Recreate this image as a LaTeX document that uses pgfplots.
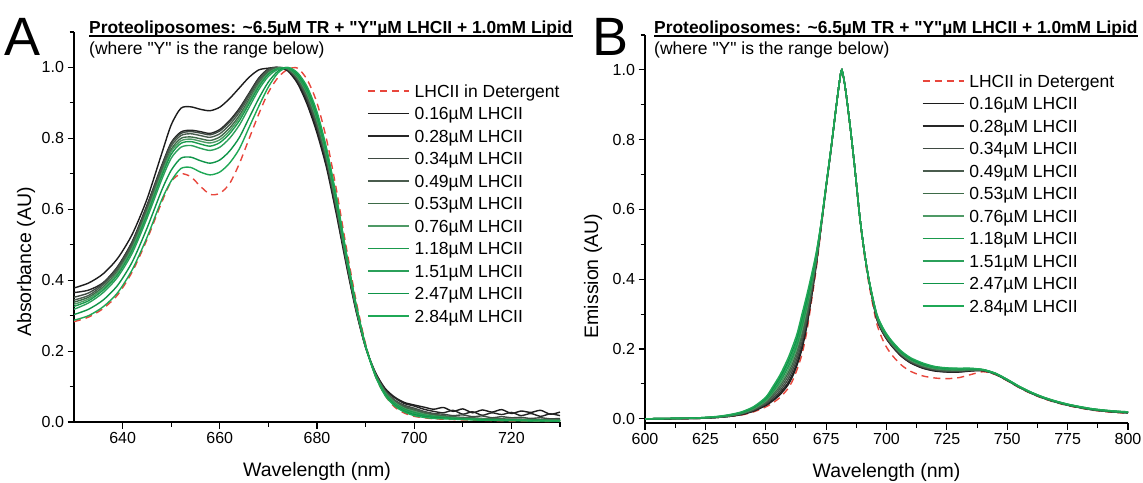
\documentclass[border=0pt]{standalone}
\usepackage{pgfplots}
\pgfplotsset{compat=1.18}
\usepackage{pgfplotstable}
\usepackage{fontspec}
\setmainfont{Liberation Sans}

\definecolor{detred}{HTML}{E8463C}
\definecolor{c1}{HTML}{1C1C1C}
\definecolor{c2}{HTML}{262626}
\definecolor{c3}{HTML}{3F4A42}
\definecolor{c4}{HTML}{4A5C4E}
\definecolor{c5}{HTML}{3D6B48}
\definecolor{c6}{HTML}{4F9A66}
\definecolor{c7}{HTML}{1A9A4C}
\definecolor{c8}{HTML}{2BA05A}
\definecolor{c9}{HTML}{0E9448}
\definecolor{c10}{HTML}{1FA856}

\pgfplotstableread{
wl s1 s2 s3 s4 s5 s6 s7 s8 s9 s10 det
630 .378 .365 .352 .344 .338 .332 .326 .318 .303 .287 .283
633 .392 .372 .364 .357 .352 .347 .342 .336 .318 .300 .296
636 .418 .393 .391 .387 .381 .377 .372 .365 .344 .325 .320
639 .462 .439 .437 .432 .426 .422 .416 .409 .386 .365 .359
642 .530 .510 .507 .502 .496 .491 .485 .477 .452 .430 .424
645 .628 .611 .608 .602 .595 .590 .583 .574 .546 .520 .514
648 .755 .722 .719 .713 .705 .699 .692 .682 .652 .625 .618
650 .838 .788 .785 .778 .769 .763 .755 .744 .710 .680 .678
652 .885 .818 .814 .808 .800 .793 .786 .775 .744 .715 .700
654 .889 .823 .819 .813 .804 .798 .791 .780 .747 .718 .692
656 .882 .819 .815 .808 .799 .792 .784 .772 .737 .705 .665
658 .878 .814 .810 .803 .794 .787 .778 .766 .730 .697 .642
660 .888 .825 .821 .813 .804 .796 .788 .775 .739 .705 .645
662 .912 .850 .846 .838 .829 .821 .813 .800 .764 .730 .672
664 .942 .884 .880 .873 .864 .857 .849 .837 .802 .770 .728
666 .972 .927 .924 .918 .910 .904 .897 .887 .857 .830 .798
668 .993 .970 .967 .962 .956 .951 .945 .937 .912 .890 .868
670 .998 .996 .995 .991 .987 .984 .981 .975 .959 .945 .930
672 1.000 1.000 1.000 1.000 .999 .998 .997 .995 .990 .985 .972
674 .990 .993 .994 .995 .996 .997 .998 .999 1.000 1.000 .995
676 .955 .960 .964 .967 .970 .973 .976 .979 .982 .985 .998
678 .895 .903 .910 .915 .920 .925 .930 .935 .940 .945 .965
680 .815 .824 .833 .839 .845 .851 .857 .863 .869 .875 .900
682 .715 .723 .732 .737 .743 .748 .754 .759 .765 .770 .795
684 .585 .593 .600 .605 .610 .615 .620 .625 .630 .635 .655
686 .445 .450 .456 .459 .463 .466 .470 .473 .477 .480 .495
688 .315 .318 .321 .323 .325 .327 .329 .331 .333 .335 .345
690 .210 .211 .212 .212 .213 .213 .214 .214 .215 .215 .220
692 .140 .140 .137 .136 .135 .134 .133 .132 .131 .130 .130
694 .095 .092 .089 .087 .085 .083 .081 .079 .077 .075 .075
696 .070 .068 .062 .060 .057 .055 .052 .050 .047 .045 .042
698 .055 .052 .047 .044 .041 .038 .036 .033 .030 .028 .025
700 .048 .045 .039 .036 .033 .030 .027 .024 .021 .018 .016
702 .042 .036 .030 .028 .025 .022 .020 .018 .016 .013 .012
704 .036 .030 .024 .022 .020 .017 .016 .014 .013 .010 .009
706 .041 .026 .022 .018 .016 .014 .013 .012 .011 .009 .008
708 .030 .033 .018 .015 .013 .012 .011 .010 .009 .008 .007
710 .037 .022 .020 .013 .011 .010 .009 .009 .008 .007 .006
712 .026 .029 .015 .012 .010 .009 .008 .008 .007 .006 .005
714 .034 .019 .017 .010 .009 .008 .007 .007 .006 .005 .005
716 .028 .026 .012 .010 .008 .007 .007 .006 .006 .005 .004
718 .035 .021 .015 .009 .008 .007 .006 .006 .005 .004 .004
720 .024 .027 .012 .008 .007 .006 .006 .005 .005 .004 .003
722 .031 .018 .013 .008 .007 .006 .005 .005 .004 .004 .003
724 .027 .024 .010 .007 .006 .005 .005 .004 .004 .003 .003
726 .033 .016 .012 .007 .006 .005 .005 .004 .004 .003 .002
728 .022 .023 .009 .006 .005 .005 .004 .004 .003 .003 .002
730 .028 .018 .010 .006 .005 .004 .004 .004 .003 .003 .002
}\tabA

\pgfplotstableread{
wl s1 s2 s3 s4 s5 s6 s7 s8 s9 s10 det
600 .000 .000 .000 .000 .000 .000 .000 .000 .000 .000 .000
610 .000 .000 .001 .001 .001 .001 .001 .001 .001 .001 .000
620 .001 .001 .001 .001 .002 .002 .002 .002 .002 .002 .001
625 .002 .002 .002 .003 .003 .003 .003 .004 .004 .004 .002
630 .004 .004 .004 .005 .005 .005 .006 .006 .006 .007 .004
635 .007 .007 .008 .008 .009 .009 .010 .011 .011 .012 .007
640 .012 .013 .014 .015 .016 .016 .017 .018 .019 .020 .011
645 .022 .023 .025 .026 .028 .029 .031 .032 .033 .035 .020
650 .038 .040 .043 .046 .049 .051 .054 .056 .059 .062 .034
653 .052 .055 .060 .065 .070 .075 .079 .084 .088 .093 .046
656 .070 .075 .081 .088 .095 .101 .108 .114 .120 .127 .062
659 .095 .101 .110 .119 .128 .136 .145 .153 .161 .170 .085
661 .120 .127 .137 .147 .157 .167 .176 .185 .195 .205 .108
663 .155 .162 .173 .184 .195 .205 .214 .224 .234 .245 .142
665 .200 .208 .220 .232 .244 .255 .266 .277 .288 .300 .185
667 .265 .272 .283 .294 .305 .315 .324 .334 .344 .355 .250
669 .350 .355 .363 .371 .379 .386 .393 .400 .407 .415 .340
671 .445 .448 .452 .456 .460 .464 .468 .472 .476 .480 .435
673 .555 .556 .557 .558 .559 .561 .562 .563 .564 .565 .550
675 .665 .665 .666 .667 .667 .668 .668 .669 .669 .670 .660
677 .770 .771 .771 .772 .772 .773 .773 .774 .774 .775 .770
679 .885 .885 .885 .885 .885 .885 .885 .885 .885 .885 .885
680.5 .965 .965 .965 .965 .965 .965 .965 .965 .965 .965 .962
681.5 1.000 1.000 1.000 1.000 1.000 1.000 1.000 1.000 1.000 1.000 1.000
683 .945 .945 .945 .945 .945 .945 .945 .945 .945 .945 .940
685 .835 .835 .835 .835 .835 .835 .835 .835 .835 .835 .830
687 .710 .710 .710 .710 .710 .710 .710 .710 .710 .710 .705
689 .575 .575 .575 .575 .575 .575 .575 .575 .575 .575 .568
691 .470 .470 .470 .470 .470 .470 .470 .470 .470 .470 .460
693 .385 .386 .386 .387 .387 .388 .388 .389 .389 .390 .375
696 .285 .286 .288 .290 .292 .293 .295 .297 .298 .300 .272
699 .240 .241 .243 .245 .247 .248 .250 .252 .253 .255 .218
702 .210 .211 .213 .215 .217 .218 .220 .222 .223 .225 .185
706 .180 .181 .183 .185 .187 .188 .190 .192 .193 .195 .155
710 .160 .161 .163 .165 .167 .168 .170 .172 .173 .175 .136
715 .145 .146 .148 .150 .152 .153 .155 .157 .158 .160 .123
720 .137 .138 .140 .141 .143 .144 .146 .147 .149 .150 .117
725 .134 .135 .136 .138 .139 .141 .142 .143 .145 .146 .115
730 .134 .135 .136 .138 .139 .140 .141 .142 .144 .145 .118
735 .137 .138 .139 .140 .140 .141 .142 .143 .144 .145 .127
740 .138 .138 .139 .139 .140 .140 .140 .141 .141 .141 .135
745 .128 .129 .128 .130 .129 .130 .129 .131 .130 .131 .127
750 .110 .111 .110 .112 .111 .112 .111 .113 .112 .113 .109
755 .090 .091 .090 .092 .091 .092 .091 .093 .092 .093 .089
760 .073 .074 .073 .075 .074 .075 .074 .076 .075 .076 .072
765 .059 .060 .059 .061 .060 .061 .060 .062 .061 .062 .058
770 .048 .049 .048 .050 .049 .050 .049 .051 .050 .051 .047
775 .039 .040 .039 .041 .040 .041 .040 .042 .041 .042 .038
780 .032 .033 .032 .034 .033 .034 .033 .035 .034 .035 .031
785 .026 .027 .026 .028 .027 .028 .027 .029 .028 .029 .025
790 .022 .023 .022 .024 .023 .024 .023 .025 .024 .025 .021
795 .019 .020 .019 .021 .020 .021 .020 .022 .021 .022 .018
800 .017 .018 .017 .019 .018 .019 .018 .020 .019 .020 .016
}\tabB

\pgfplotsset{
  panel/.style={
    scale only axis,
    axis lines*=left,
    tick align=outside,
    axis line style={line width=1.1pt, black},
    every tick/.style={black, line width=1.1pt},
    major tick length=6.5pt,
    minor tick length=4.5pt,
    ytick={0,0.2,0.4,0.6,0.8,1.0},
    minor ytick={0.1,0.3,0.5,0.7,0.9,1.1},
    /pgf/number format/assume math mode=true,
    ticklabel style={font=\fontsize{16}{16}\selectfont},
    yticklabel style={/pgf/number format/.cd, fixed, fixed zerofill, precision=1},
    xticklabel style={/pgf/number format/.cd, fixed, precision=0},
    xlabel style={font=\fontsize{19.5}{19.5}\selectfont, at={(axis description cs:0.5,0)}, anchor=base, yshift=-54pt},
    legend style={draw=none, fill=none, inner sep=0pt, anchor=north west,
      font=\fontsize{17.5}{17.5}\selectfont, row sep=5.5pt, column sep=5pt,
      nodes={inner sep=0pt, text height=13pt, text depth=4pt},
      cells={anchor=base west}},
    legend image code/.code={\draw[#1, line width=1.4pt] (0pt,6pt) -- (41pt,6pt);},
    every axis plot/.append style={line width=1.4pt, smooth, tension=0.45},
  },
  det/.style={detred, dash pattern=on 7pt off 5pt},
}

\newcommand{\Q}{\textquotedbl}

\begin{document}
\begin{tikzpicture}[x=1pt,y=1pt]
\useasboundingbox (0pt,0pt) rectangle (1143pt,-482pt);

% ---------------- Panel A ----------------
\begin{axis}[panel,
  at={(74pt,-422pt)}, anchor=south west, width=486pt, height=390pt,
  xmin=630, xmax=730, ymin=0, ymax=1.1,
  xtick={640,660,680,700,720}, minor xtick={650,670,690,710,730},
  xlabel={Wavelength (nm)},
  legend style={at={(axis description cs:0.603,0.8667)}},
]
\addplot[det] table[x=wl,y=det]{\tabA}; \addlegendentry{LHCII in Detergent}
\addplot[c1] table[x=wl,y=s1]{\tabA}; \addlegendentry{0.16µM LHCII}
\addplot[c2] table[x=wl,y=s2]{\tabA}; \addlegendentry{0.28µM LHCII}
\addplot[c3] table[x=wl,y=s3]{\tabA}; \addlegendentry{0.34µM LHCII}
\addplot[c4] table[x=wl,y=s4]{\tabA}; \addlegendentry{0.49µM LHCII}
\addplot[c5] table[x=wl,y=s5]{\tabA}; \addlegendentry{0.53µM LHCII}
\addplot[c6] table[x=wl,y=s6]{\tabA}; \addlegendentry{0.76µM LHCII}
\addplot[c7] table[x=wl,y=s7]{\tabA}; \addlegendentry{1.18µM LHCII}
\addplot[c8] table[x=wl,y=s8]{\tabA}; \addlegendentry{1.51µM LHCII}
\addplot[c9] table[x=wl,y=s9]{\tabA}; \addlegendentry{2.47µM LHCII}
\addplot[c10] table[x=wl,y=s10]{\tabA}; \addlegendentry{2.84µM LHCII}
\end{axis}

% ---------------- Panel B ----------------
\begin{axis}[panel,
  at={(645pt,-423pt)}, anchor=south west, width=483pt, height=388pt,
  xmin=600, xmax=800, ymin=-0.012, ymax=1.1,
  xtick={600,625,650,675,700,725,750,775,800},
  minor xtick={612.5,637.5,662.5,687.5,712.5,737.5,762.5,787.5},
  xlabel={Wavelength (nm)},
  legend style={at={(axis description cs:0.573,0.8995)}},
]
\addplot[det] table[x=wl,y=det]{\tabB}; \addlegendentry{LHCII in Detergent}
\addplot[c1] table[x=wl,y=s1]{\tabB}; \addlegendentry{0.16µM LHCII}
\addplot[c2] table[x=wl,y=s2]{\tabB}; \addlegendentry{0.28µM LHCII}
\addplot[c3] table[x=wl,y=s3]{\tabB}; \addlegendentry{0.34µM LHCII}
\addplot[c4] table[x=wl,y=s4]{\tabB}; \addlegendentry{0.49µM LHCII}
\addplot[c5] table[x=wl,y=s5]{\tabB}; \addlegendentry{0.53µM LHCII}
\addplot[c6] table[x=wl,y=s6]{\tabB}; \addlegendentry{0.76µM LHCII}
\addplot[c7] table[x=wl,y=s7]{\tabB}; \addlegendentry{1.18µM LHCII}
\addplot[c8] table[x=wl,y=s8]{\tabB}; \addlegendentry{1.51µM LHCII}
\addplot[c9] table[x=wl,y=s9]{\tabB}; \addlegendentry{2.47µM LHCII}
\addplot[c10] table[x=wl,y=s10]{\tabB}; \addlegendentry{2.84µM LHCII}
\end{axis}

% ---------------- Labels ----------------
\node[rotate=90, anchor=base, inner sep=0pt, font=\fontsize{19.5}{19.5}\selectfont] at (31pt,-262pt) {Absorbance (AU)};
\node[rotate=90, anchor=base, inner sep=0pt, font=\fontsize{19.5}{19.5}\selectfont] at (598pt,-276pt) {Emission (AU)};

\node[anchor=base west, inner sep=0pt, text depth=0pt, font=\fontsize{54}{54}\selectfont] at (4pt,-55pt) {A};
\node[anchor=base west, inner sep=0pt, text depth=0pt, font=\fontsize{54}{54}\selectfont] at (592pt,-55pt) {B};

\node[anchor=base west, inner sep=0pt, font=\bfseries\fontsize{17.4}{17.4}\selectfont] (tA) at (89pt,-33pt) {Proteoliposomes: \textasciitilde6.5µM TR + \Q Y\Q µM LHCII + 1.0mM Lipid};
\draw[line width=1.2pt] ([yshift=-3pt]tA.base west) -- ([yshift=-3pt]tA.base east);
\node[anchor=base west, inner sep=0pt, font=\fontsize{17.5}{17.5}\selectfont] at (89pt,-54pt) {(where \Q Y\Q{} is the range below)};

\node[anchor=base west, inner sep=0pt, font=\bfseries\fontsize{17.4}{17.4}\selectfont] (tB) at (654pt,-33pt) {Proteoliposomes: \textasciitilde6.5µM TR + \Q Y\Q µM LHCII + 1.0mM Lipid};
\draw[line width=1.2pt] ([yshift=-3pt]tB.base west) -- ([yshift=-3pt]tB.base east);
\node[anchor=base west, inner sep=0pt, font=\fontsize{17.5}{17.5}\selectfont] at (654pt,-54pt) {(where \Q Y\Q{} is the range below)};
\end{tikzpicture}
\end{document}
